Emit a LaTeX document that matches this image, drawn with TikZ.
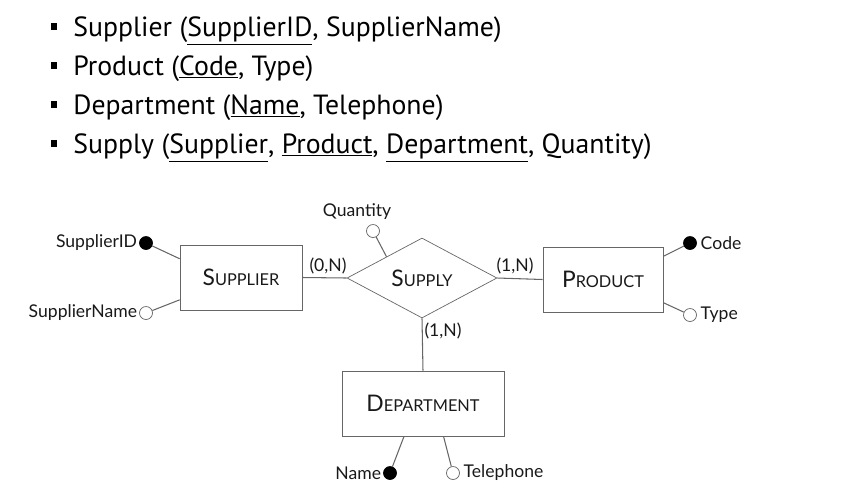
\documentclass[tikz,border=0pt]{standalone}
\usepackage{fontspec}
\setmainfont{PT Sans}
\newfontfamily\erfont{Lato}
\usetikzlibrary{shapes.geometric}
\newcommand\scname[2]{{\fontsize{13}{13}\selectfont #1}{\fontsize{9.3}{10}\selectfont #2}}
\tikzset{
  entity/.style={draw=black!60, font=\erfont, text=black!90, minimum height=1.3cm},
  relation/.style={draw=black!60, diamond, font=\erfont, text=black!90, inner sep=0pt, minimum width=3cm, minimum height=1.6cm},
  keyattr/.style={draw=black, fill=black, circle, inner sep=0pt, minimum size=0.26cm},
  plainattr/.style={draw=black!60, fill=white, circle, inner sep=0pt, minimum size=0.26cm},
  attrlabel/.style={font=\erfont\fontsize{10}{11}\selectfont, text=black!90, inner sep=0pt},
  card/.style={font=\erfont\fontsize{10}{11}\selectfont, text=black!90, inner sep=0pt},
  link/.style={draw=black!60, line width=0.6pt},
  relline/.style={anchor=base west, font=\fontsize{15.8}{18}\selectfont, inner sep=0pt},
  bullet/.style={fill=black, minimum size=0.14cm, inner sep=0pt}
}
\begin{document}
\begin{tikzpicture}[x=0.02cm, y=-0.02cm]
  \useasboundingbox (0,0) rectangle (846,488);
  % relational schema
  \foreach \i/\yy in {1/26, 2/65, 3/104, 4/143}
    \node[bullet] (b\i) at (54,\yy) {};
  \node[relline] (r1) at (73,36) {Supplier (\underline{SupplierID}, SupplierName)};
  \node[relline] (r2) at (73,75) {Product (\underline{Code}, Type)};
  \node[relline] (r3) at (73,114) {Department (\underline{Name}, Telephone)};
  \node[relline] (r4) at (73,153) {Supply (\underline{Supplier}, \underline{Product}, \underline{Department}, Quantity)};
  % entities and relationship
  \node[entity, minimum width=2.44cm] (supplier) at (241,277.5) {\scname{S}{UPPLIER}};
  \node[entity, minimum width=2.4cm] (product) at (603,279.5) {\scname{P}{RODUCT}};
  \node[entity, minimum width=3.24cm] (department) at (423,403.5) {\scname{D}{EPARTMENT}};
  \node[relation] (supply) at (422,278) {\scname{S}{UPPLY}};
  \draw[link] (supplier.east) -- (supply.west);
  \draw[link] (supply.east) -- (product.west);
  \draw[link] (supply.south) -- (department.north);
  % cardinalities
  \node[card] (c1) at (328,266) {(0,N)};
  \node[card] (c2) at (515,266) {(1,N)};
  \node[card] (c3) at (443,331) {(1,N)};
  % attributes
  \node[keyattr] (sid) at (146,243) {};
  \node[attrlabel, left=1pt] (sidl) at (sid.west) {SupplierID};
  \node[plainattr] (sname) at (146,313) {};
  \node[attrlabel, left=1pt] (snamel) at (sname.west) {SupplierName};
  \node[plainattr] (qty) at (373,231) {};
  \node[attrlabel] (qtyl) at (357,212) {Quantity};
  \node[keyattr] (code) at (690,243) {};
  \node[attrlabel, right=2pt] (codel) at (code.east) {Code};
  \node[plainattr] (type) at (690,315) {};
  \node[attrlabel, right=2pt] (typel) at (type.east) {Type};
  \node[keyattr] (name) at (390,473) {};
  \node[attrlabel, left=1pt] (namel) at (name.west) {Name};
  \node[plainattr] (tel) at (453,473) {};
  \node[attrlabel, right=2pt] (tell) at (tel.east) {Telephone};
  \draw[link] (sid) -- (supplier.163);
  \draw[link] (sname) -- (supplier.200);
  \draw[link] (qty) -- (supply.149);
  \draw[link] (code) -- (product.21);
  \draw[link] (type) -- (product.339);
  \draw[link] (name) -- (department.240);
  \draw[link] (tel) -- (department.302);
\end{tikzpicture}
\end{document}
